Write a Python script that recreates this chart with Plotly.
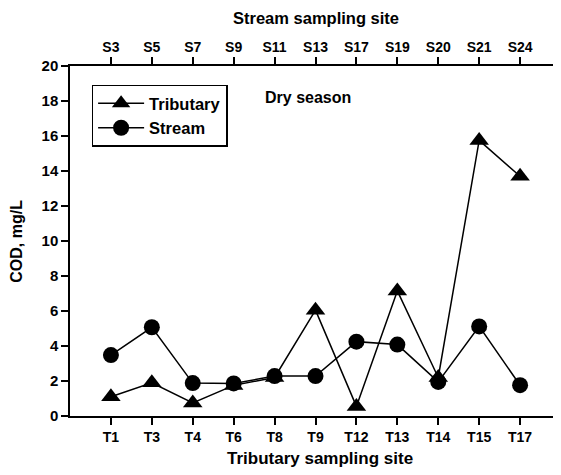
import plotly.graph_objects as go

tributary_sites = ["T1", "T3", "T4", "T6", "T8", "T9", "T12", "T13", "T14", "T15", "T17"]
stream_sites = ["S3", "S5", "S7", "S9", "S11", "S13", "S17", "S19", "S20", "S21", "S24"]
tributary_cod = [1.1, 1.9, 0.75, 1.75, 2.2, 6.05, 0.55, 7.15, 2.2, 15.75, 13.7]
stream_cod = [3.48, 5.07, 1.88, 1.86, 2.28, 2.28, 4.25, 4.08, 1.95, 5.12, 1.76]
y_ticks = list(range(0, 21, 2))

FONT = "Liberation Sans, Arial, sans-serif"

fig = go.Figure()
fig.add_trace(go.Scatter(
    x=tributary_sites, y=tributary_cod, name="Tributary", mode="lines+markers",
    line=dict(color="black", width=1.5),
    marker=dict(symbol="triangle-up", size=17, color="black"),
    xaxis="x", yaxis="y"))
fig.add_trace(go.Scatter(
    x=stream_sites, y=stream_cod, name="Stream", mode="lines+markers",
    line=dict(color="black", width=1.5),
    marker=dict(symbol="circle", size=16, color="black"),
    xaxis="x2", yaxis="y"))

xtick_font = dict(family=FONT, size=14, color="black", weight="bold")
ytick_font = dict(family=FONT, size=15, color="black", weight="bold")

def title_font(size):
    return dict(family=FONT, size=size, color="black", weight="bold")

fig.update_layout(
    width=553, height=467,
    margin=dict(l=62, r=0, t=58, b=59),
    paper_bgcolor="white", plot_bgcolor="white",
    showlegend=True,
    legend=dict(x=0.044, y=0.947, xanchor="left", yanchor="top",
                bgcolor="white", bordercolor="black", borderwidth=1.5,
                font=dict(family=FONT, size=16.5, color="black", weight="bold"),
                tracegroupgap=0, itemwidth=46),
    xaxis=dict(type="category", categoryorder="array", categoryarray=tributary_sites,
               range=[-1, 11], showline=True, linecolor="black", linewidth=1.5,
               ticks="outside", ticklen=7, tickwidth=1.5, tickcolor="black",
               tickfont=xtick_font, showgrid=False, zeroline=False, automargin=False),
    xaxis2=dict(type="category", categoryorder="array", categoryarray=stream_sites,
                range=[-1, 11], overlaying="x", side="top", anchor="y",
                showline=True, linecolor="black", linewidth=1.5,
                ticks="outside", ticklen=7, tickwidth=1.5, tickcolor="black",
                tickfont=xtick_font, showgrid=False, zeroline=False, automargin=False),
    yaxis=dict(range=[0, 20], tickvals=y_ticks, showline=True, linecolor="black",
               linewidth=1.5, ticks="outside", ticklen=7, tickwidth=1.5,
               tickcolor="black", tickfont=ytick_font, showgrid=False, zeroline=False,
               automargin=False),
    annotations=[
        dict(text="Dry season", x=0.393, y=0.911, xref="paper", yref="paper",
             xanchor="left", yanchor="middle", showarrow=False, font=title_font(16)),
        dict(text="Stream sampling site", x=0.5, y=1.1377, xref="paper", yref="paper",
             xanchor="center", yanchor="middle", showarrow=False, font=title_font(16.5)),
        dict(text="Tributary sampling site", x=0.51, y=-0.121, xref="paper", yref="paper",
             xanchor="center", yanchor="middle", showarrow=False, font=title_font(17)),
        dict(text="COD, mg/L", x=-0.1106, y=0.5, xref="paper", yref="paper",
             xanchor="center", yanchor="middle", textangle=-90, showarrow=False,
             font=title_font(16)),
    ],
)

fig.write_html("out.html")
